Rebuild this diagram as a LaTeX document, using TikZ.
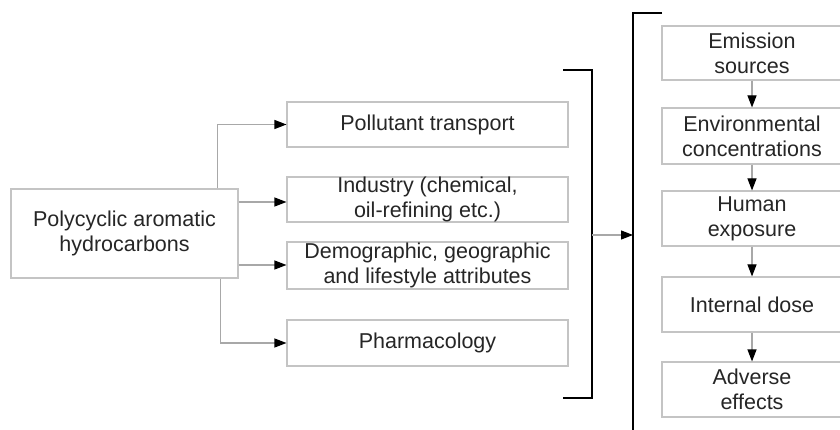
\documentclass[tikz,border=0pt]{standalone}
\usepackage{fontspec}
\setmainfont{Liberation Sans}
\usetikzlibrary{arrows.meta}
\definecolor{boxline}{HTML}{C4C4C4}
\definecolor{conn}{HTML}{A8A8A8}
\definecolor{txt}{HTML}{262626}
\begin{document}
\begin{tikzpicture}[x=1pt,y=-1pt,
  box/.style={draw=boxline,line width=1.1pt,fill=white,align=center,text=txt,
    inner sep=0pt,font=\fontsize{21.5}{25}\selectfont},
  arr/.style={draw=conn,line width=1.1pt,-{Triangle[length=12pt,width=9pt,color=black,fill=black]}},
  brk/.style={draw=black,line width=2.4pt,line cap=butt,line join=miter}]
\useasboundingbox[fill=white] (0,0) rectangle (840,430);
% left
\node[box,minimum width=227pt,minimum height=89pt] (L) at (124.5,233.5) {Polycyclic aromatic\\hydrocarbons};
% middle
\node[box,minimum width=281pt,minimum height=45pt] (P1) at (427.5,124.5) {Pollutant transport};
\node[box,minimum width=281pt,minimum height=45pt] (P2) at (427.5,199.5) {Industry (chemical,\\oil-refining etc.)};
\node[box,minimum width=281pt,minimum height=47pt] (P3) at (427.5,265.5) {Demographic, geographic\\and lifestyle attributes};
\node[box,minimum width=281pt,minimum height=46pt] (P4) at (427.5,343) {Pharmacology};
% right
\node[box,minimum width=180pt,minimum height=54pt] (R1) at (752,53) {Emission\\sources};
\node[box,minimum width=180pt,minimum height=56pt] (R2) at (752,136) {Environmental\\concentrations};
\node[box,minimum width=180pt,minimum height=55pt] (R3) at (752,218.5) {Human\\exposure};
\node[box,minimum width=180pt,minimum height=55pt] (R4) at (752,304.5) {Internal dose};
\node[box,minimum width=180pt,minimum height=55pt] (R5) at (752,389.5) {Adverse\\effects};
% branch connectors
\draw[arr] ([xshift=207pt]L.north west) |- (P1.west);
\draw[arr] (L.east |- 0,202) -- (P2.west |- 0,202);
\draw[arr] (L.east |- 0,265) -- (P3.west |- 0,265);
\draw[arr] ([xshift=210pt]L.south west) |- (P4.west);
% bracket
\coordinate (b1) at (563,70);
\coordinate (b2) at (592,70);
\coordinate (b3) at (592,398);
\coordinate (b4) at (563,398);
\draw[brk] (b1) -- (b2) -- (b3) -- (b4);
\coordinate (m1) at (592,235);
\coordinate (m2) at (633,235);
\draw[arr] (m1) -- (m2);
\coordinate (c1) at (662,13);
\coordinate (c2) at (633,13);
\coordinate (c3) at (633,432);
\draw[brk] (c1) -- (c2) -- (c3);
% chain
\draw[arr] (R1.south) -- (R2.north);
\draw[arr] (R2.south) -- (R3.north);
\draw[arr] (R3.south) -- (R4.north);
\draw[arr] (R4.south) -- (R5.north);
\end{tikzpicture}
\end{document}
